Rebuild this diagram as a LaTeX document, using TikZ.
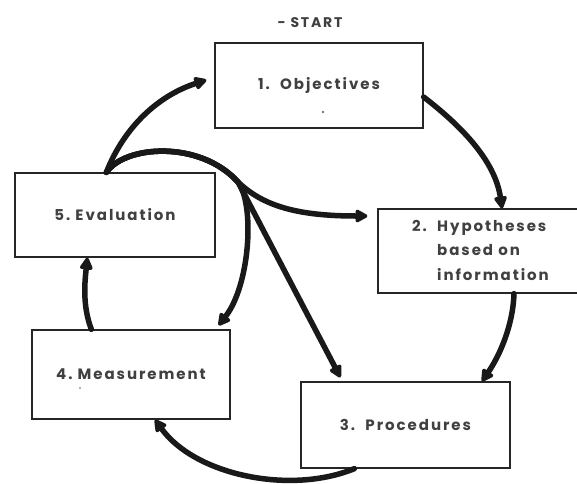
\documentclass[tikz,border=0pt]{standalone}
\usepackage{fontspec}
\setmainfont[LetterSpace=13]{Poppins}
\usetikzlibrary{arrows.meta,calc}
\begin{document}
\begin{tikzpicture}[x=1pt,y=-1pt,
  box/.style={draw=black!85, line width=1.3pt, inner sep=0pt, font=\fontsize{15}{24.5}\selectfont\bfseries, text=black!75},
  flow/.style={line width=5.5pt, line cap=round, black!90, -{Triangle[length=14pt,width=14pt,round]}}]
\useasboundingbox (0,0) rectangle (577,483);
\fill[white] (0,0) rectangle (577,483);
\node[box, minimum width=208, minimum height=85] (n1) at (319,85.5) {1.\ \ Objectives};
\node[box, minimum width=205, minimum height=84] (n2) at (480.5,251) {\begin{tabular}{@{}l@{\ \ }l@{}}2.&Hypotheses\\&based on\\&information\end{tabular}};
\node[box, minimum width=209, minimum height=86] (n3) at (405.5,425) {3.\ \ Procedures};
\node[box, minimum width=198, minimum height=89] (n4) at (131,374.5) {4.\ Measurement};
\node[box, minimum width=200, minimum height=84] (n5) at (115,215) {5.\ Evaluation};
\node[font=\fontsize{14}{15}\selectfont\bfseries, text=black!75] (start) at (310,23) {-\ START};
\fill[black!70] (323,112) circle (1.1);
\fill[black!60] (80,388) circle (0.9);
\coordinate (s) at ($(n5.north west)+(92,0)$);
\coordinate (j) at (238,182);
% 5 -> 1
\draw[flow] (s) .. controls (125,125) and (160,95) .. ($(n1.west)+(-8,-5.5)$);
% 1 -> 2
\draw[flow] ($(n1.east)+(0,11.5)$) .. controls (460,125) and (495,160) .. ($(n2.north)+(21.5,0)$);
% 2 -> 3
\draw[flow] ($(n2.south)+(33.5,0)$) .. controls (513,325) and (500,355) .. ($(n3.north)+(76.5,0)$);
% 3 -> 4
\draw[flow] ($(n3.south west)+(54,0)$) .. controls (290,495) and (195,475) .. ($(n4.south)+(24,0)$);
% 4 -> 5
\draw[flow] ($(n4.north west)+(60,0)$) .. controls (82,305) and (85,280) .. ($(n5.south west)+(73,0)$);
% branches from evaluation
\draw[flow] (s) .. controls (125,145) and (200,140) .. (j) .. controls (262,205) and (295,216) .. ($(n2.west)+(-10,-35)$);
\draw[flow] (s) .. controls (125,145) and (200,140) .. (j) .. controls (255,205) and (250,285) .. ($(n4.north east)+(-12,-4)$);
\draw[flow] (s) .. controls (125,145) and (200,140) .. (j) .. controls (250,205) .. ($(n3.north west)+(40,-4)$);
\end{tikzpicture}
\end{document}
